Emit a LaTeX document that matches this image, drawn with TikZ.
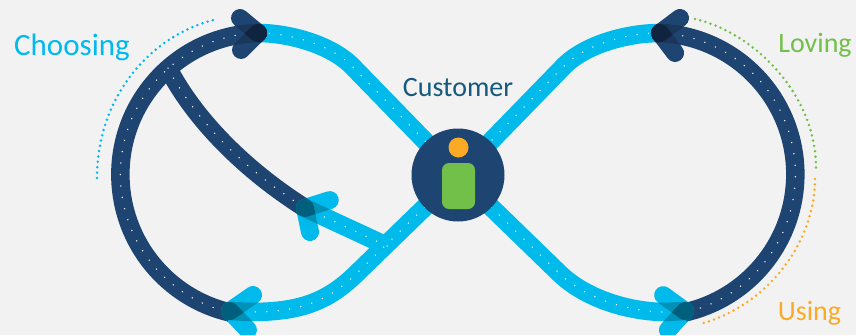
\documentclass[tikz,border=0pt]{standalone}
\usepackage{fontspec}
\setmainfont{Carlito}
\definecolor{paper}{HTML}{F2F2F2}
\definecolor{lightband}{HTML}{00BAEB}
\definecolor{darkband}{HTML}{1E4471}
\definecolor{chooseblue}{HTML}{00B9F0}
\definecolor{lovegreen}{HTML}{72BF4A}
\definecolor{useorange}{HTML}{FBAA26}
\definecolor{custblue}{HTML}{155A7D}
\definecolor{lightover}{HTML}{0091B9}
\definecolor{teal}{HTML}{005F7C}
\definecolor{darkover}{HTML}{1A3659}
\definecolor{darkest}{HTML}{10233F}
\tikzset{
	band/.style={line width=18.5pt},
	dotline/.style={white,line width=1.5pt,line cap=round,dash pattern=on 0pt off 11.5pt},
	arcdots/.style={line width=2.8pt,line cap=round,dash pattern=on 0pt off 5.4pt},
	label/.style={anchor=base,font=\fontsize{#1}{#1}\selectfont},
}
\newcommand\lightbands[1]{
	\draw[#1] (tipTL) .. controls (288,33) and (330,44) .. (352,66) -- (hubc);
	\draw[#1] (hubc) -- (358,272) .. controls (328,302) and (300,312) .. (250,312) -- (tipBL);
	\draw[#1] (387,246) -- (tipMid);
	\draw[#1] (tipTR) .. controls (628,33) and (586,44) .. (564,66) -- (hubc);
	\draw[#1] (hubc) -- (558,272) .. controls (588,302) and (636,312) .. (665,312) -- (tipBR);
}
\newcommand\darkbands[1]{
	\draw[#1] (tipTL) arc[start angle=268.4,end angle=103,radius=141.6];
	\draw[#1] (168,68) .. controls (195,120) and (245,170) .. (tipMid);
	\draw[#1] (tipTR) arc[start angle=-87.5,end angle=77.5,radius=141.5];
}
\newcommand\armclip[3]{\clip[shift={(#1)},rotate=#2,rounded corners=9pt] (-9,-9) rectangle (#3+9,9);}
\newcommand\armhead[9]{
	\begin{scope}
		\armclip{#1}{#2}{#3}
		\fill[#6] (0,0) rectangle (856,335);
		\lightbands{band,#7}
		\darkbands{band,#8}
	\end{scope}
	\begin{scope}
		\armclip{#1}{#4}{#5}
		\fill[#6] (0,0) rectangle (856,335);
		\lightbands{band,#7}
		\darkbands{band,#8}
	\end{scope}
	\begin{scope}
		\armclip{#1}{#2}{#3}
		\armclip{#1}{#4}{#5}
		\fill[#9] (0,0) rectangle (856,335);
	\end{scope}
}
\begin{document}
\begin{tikzpicture}[x=1pt,y=-1pt]
	\useasboundingbox (0,0) rectangle (856,335);
	\fill[paper] (0,0) rectangle (856,335);
	\coordinate (hubc)   at (458,175);
	\coordinate (tipTL)  at (258,33);
	\coordinate (tipBL)  at (230,311);
	\coordinate (tipMid) at (305,208);
	\coordinate (tipTR)  at (660,33);
	\coordinate (tipBR)  at (685,311);

	\lightbands{band,lightband}
	\darkbands{band,darkband}
	\lightbands{dotline}
	\darkbands{dotline}

	\armhead{tipTL}{140.2}{23.4}{225}{24}{darkband}{darkest}{darkover}{darkest}
	\armhead{tipTR}{36.9}{25}{-53}{25}{darkband}{darkest}{darkover}{darkest}
	\armhead{tipBL}{34.8}{28}{-46.5}{26}{lightband}{lightover}{teal}{teal}
	\armhead{tipMid}{17.7}{26}{-78.2}{24.5}{lightband}{lightover}{teal}{teal}
	\armhead{tipBR}{144}{27}{228}{25.5}{lightband}{lightover}{teal}{teal}

	\draw[arcdots,chooseblue] (97,178) .. controls (97,95) and (153,33) .. (218,19);
	\draw[arcdots,lovegreen]  (695,19) .. controls (755,33) and (816,95) .. (816,168);
	\draw[arcdots,useorange]  (815,179) .. controls (815,240) and (770,305) .. (700,324);

	\node[circle,fill=darkband,minimum size=93pt,inner sep=0pt] (hub) at (hubc) {};
	\node[circle,fill=useorange,minimum size=20pt,inner sep=0pt] (head) at (458.5,147.5) {};
	\node[rectangle,fill=lovegreen,rounded corners=7pt,minimum width=33pt,minimum height=46pt,inner sep=0pt] (body) at (458.5,186) {};

	\node[label=28,text=custblue]  (customer) at (458,96) {Customer};
	\node[label=31,text=chooseblue] (choosing) at (72,55)  {Choosing};
	\node[label=28,text=lovegreen]  (loving)   at (815,52) {Loving};
	\node[label=28,text=useorange]  (using)    at (809.5,320) {Using};
\end{tikzpicture}
\end{document}
